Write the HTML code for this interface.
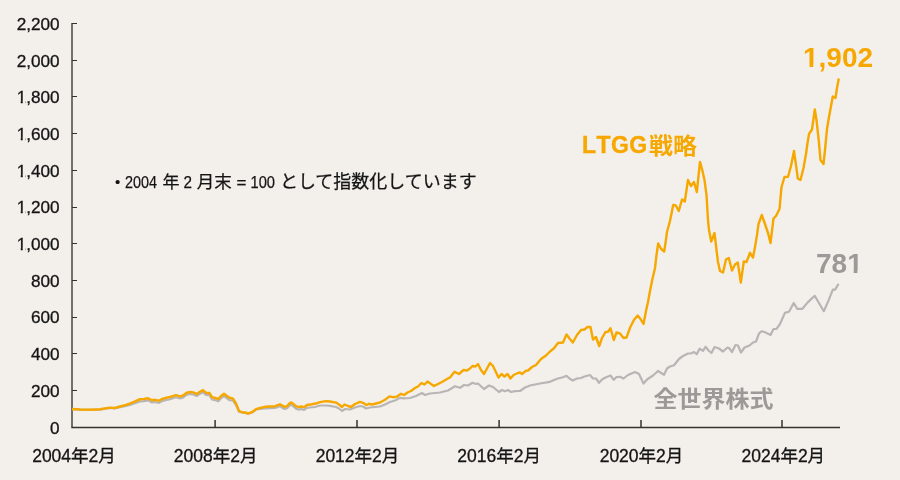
<!DOCTYPE html>
<html lang="ja"><head><meta charset="utf-8"><title>LTGG戦略と全世界株式の推移</title>
<style>
html,body{margin:0;padding:0;background:#f3f0eb;}
body{width:900px;height:480px;overflow:hidden;}
svg{display:block;will-change:transform;}
text{font-kerning:normal;}
</style></head>
<body>
<svg width="900" height="480" viewBox="0 0 900 480">
<defs><clipPath id="c1y5" clipPathUnits="userSpaceOnUse"><polygon points="14.32,228.55 63.60,228.55 63.60,258.25 26.90,258.25 26.90,247.69 24.12,247.69 24.12,258.25 22.24,258.25 22.24,247.69 18.81,247.69 18.81,258.25 14.32,258.25"/></clipPath><clipPath id="c1y6" clipPathUnits="userSpaceOnUse"><polygon points="14.32,191.55 63.60,191.55 63.60,221.25 26.90,221.25 26.90,210.69 24.12,210.69 24.12,221.25 22.24,221.25 22.24,210.69 18.81,210.69 18.81,221.25 14.32,221.25"/></clipPath><clipPath id="c1y7" clipPathUnits="userSpaceOnUse"><polygon points="14.32,155.55 63.60,155.55 63.60,185.25 26.90,185.25 26.90,174.69 24.12,174.69 24.12,185.25 22.24,185.25 22.24,174.69 18.81,174.69 18.81,185.25 14.32,185.25"/></clipPath><clipPath id="c1y8" clipPathUnits="userSpaceOnUse"><polygon points="14.32,118.55 63.60,118.55 63.60,148.25 26.90,148.25 26.90,137.69 24.12,137.69 24.12,148.25 22.24,148.25 22.24,137.69 18.81,137.69 18.81,148.25 14.32,148.25"/></clipPath><clipPath id="c1y9" clipPathUnits="userSpaceOnUse"><polygon points="14.32,81.55 63.60,81.55 63.60,111.25 26.90,111.25 26.90,100.69 24.12,100.69 24.12,111.25 22.24,111.25 22.24,100.69 18.81,100.69 18.81,111.25 14.32,111.25"/></clipPath><clipPath id="c1a" clipPathUnits="userSpaceOnUse"><polygon points="798.00,30.60 880.00,30.60 880.00,81.00 818.12,81.00 818.12,63.98 813.29,63.98 813.29,81.00 809.51,81.00 809.51,63.98 803.84,63.98 803.84,81.00 798.00,81.00"/></clipPath><clipPath id="c1b" clipPathUnits="userSpaceOnUse"><polygon points="810.00,236.60 870.00,236.60 870.00,287.00 862.26,287.00 862.26,269.98 857.43,269.98 857.43,287.00 853.65,287.00 853.65,269.98 847.98,269.98 847.98,287.00 810.00,287.00"/></clipPath></defs>
<rect x="0" y="0" width="900" height="480" fill="#f3f0eb"/>
<g stroke="#35322e" stroke-width="1.5" fill="none">
<line x1="72" y1="23.1" x2="72" y2="427" stroke="#46433f"/>
<line x1="71.25" y1="427.4" x2="840" y2="427.4"/>
</g>
<g stroke="#35322e" stroke-width="1" fill="none">
<line x1="72" y1="390.50" x2="77" y2="390.50"/>
<line x1="72" y1="353.50" x2="77" y2="353.50"/>
<line x1="72" y1="317.50" x2="77" y2="317.50"/>
<line x1="72" y1="280.50" x2="77" y2="280.50"/>
<line x1="72" y1="243.50" x2="77" y2="243.50"/>
<line x1="72" y1="207.50" x2="77" y2="207.50"/>
<line x1="72" y1="170.50" x2="77" y2="170.50"/>
<line x1="72" y1="133.50" x2="77" y2="133.50"/>
<line x1="72" y1="96.50" x2="77" y2="96.50"/>
<line x1="72" y1="60.50" x2="77" y2="60.50"/>
<line x1="72" y1="23.50" x2="77" y2="23.50"/>
</g>
<g stroke="#35322e" stroke-width="1.5" fill="none">
<line x1="215.1" y1="420" x2="215.1" y2="427.4"/>
<line x1="357" y1="420" x2="357" y2="427.4"/>
<line x1="499.1" y1="420" x2="499.1" y2="427.4"/>
<line x1="641" y1="420" x2="641" y2="427.4"/>
<line x1="782" y1="420" x2="782" y2="427.4"/>
</g>
<polyline points="72,409.2 80,409.719 90,409.942 100,409.565 110,407.888 114.5,408.299 120,407.146 126,405.862 130,404.867 134,403.5 140,401.4 144,401.187 148,400.373 152,402.46 155,401.95 159,402.837 162,401.127 166.7,399.811 170,399.1 176,397.28 180,398.367 182.7,397.758 186.7,394.744 190.7,393.931 194,394.72 196.7,396.011 200,393.7 203,392.15 206,394.9 209.5,395.158 212,399.4 215.3,400.255 218.3,401.305 221,398.35 224,396.2 229,399.983 233,400.7 236,405 239,411.6 242,412.5 245,412.8 248,413.8 252,412.5 256,409.5 260,408.986 265,408.354 270,408.189 275,408.024 280,406.259 284,408.868 287,408.349 290,405.03 292,405.084 296,408.592 299,409.673 301,409.05 304,409.9 307,407.85 310,407.5 315,407 320,405.5 326,405.5 330,405.8 336,407 339,408.5 342,411 345,409 350,409.5 355,407.5 360,406 363,406.5 366,408.5 370,407.5 380,406.5 385,404.5 390,402 395,400.5 400,397.8 404,398.3 410,398 416,396 422,393 425,395 430,393.5 440,392.5 448,390.5 455,386.2 460,387.8 464,385 468,385.5 472.5,382.8 476,384 478,383.5 484,389 489,385.5 493,387 499,392 502,390 505,391.2 508,390 511,392 515,391.2 520,391 525,387.5 530,385.5 540,383.5 550,381.8 554,380 558,378.5 563,377.2 566.5,375.8 569.5,378.5 572.8,380.5 577,378.5 581,378 584.5,376.5 590,375 593,378.5 596,378.5 599,382.8 602,379.5 605.5,377.5 610.5,375.5 613.8,379.8 616.5,377 620,376.8 623.5,378.5 628,375 635,372 639,374 643.5,383.5 647,379.5 653,375.5 658,371 664,374.8 667,368.5 670,366.5 674,365.2 679,359 683,356 688,353.5 691,353.5 694,352 696.8,354.2 699.5,348.8 703,350.8 705.5,346.8 709,351 711.5,353 714.5,347 719,348.5 723,351.5 727.5,347.5 729,348 732,352 735.5,345 738,345.5 741,352.5 744.5,347.5 749.5,345.5 753,342.5 756,341.5 759,333.5 761.5,331.2 764.5,332 770.5,335 773.5,329 776.5,328.8 780,324 784.9,312.9 789,311.8 793.7,303 797.2,308.8 802.4,308.8 807.7,302.4 814.7,295.8 823.8,311.2 828.7,300.1 832.8,289.6 835.1,289.6 838.6,283.8" fill="none" stroke="#b7b5b5" stroke-width="2.2" stroke-linejoin="round" stroke-linecap="butt"/>
<polyline points="72,409 80,409.5 90,409.7 100,409.3 110,407.6 114.5,408 120,406.5 126,404.8 130,403.5 134,401.8 140,399.2 144,399 148,398.2 152,400.3 155,399.8 159,400.7 162,399 166.7,397.7 170,397 176,395.2 180,396.3 182.7,395.7 186.7,392.7 190.7,391.9 194,392.7 196.7,394 200,391.7 203,390.1 206,392.8 209.5,393 212,397.2 215.3,398 218.3,399 221,396 224,393.8 229,397.5 233,398.7 236,403.5 239,411 242,412.2 245,412.5 248,413.5 252,412.2 256,409.2 260,408 265,406.8 270,406.5 275,406.2 280,404.3 284,406.8 287,406.2 290,402.8 292,402.8 296,406.2 299,407.2 301,406.5 304,407.2 307,405 312,404.2 317,403.2 320,402.1 326,401.1 330,401.5 336,402.6 339,404.5 342,407 344.5,404.5 348,406 351,407 355,404 360,401.8 363,402.8 366.5,405 369,403.8 372,404.5 376,403.5 380,402.5 385,399.8 389.5,396.4 393,397.2 397,396.6 401,393.8 404,395 407.5,392.5 411,391 415,388 418,386.5 421.5,383 424.5,384.5 427.5,381.5 431,384 434,386 438,384 442,382 447,379 450,377.5 454.5,371.8 459,374 463.5,370 467,370.5 470,368.5 472.5,366 475.5,366.5 478,364 481,370 484,374 490,363 493,366 498.5,377.5 501.5,374 504.5,376.5 507.5,374 510.5,378.5 513.5,375 518,373 520,372.5 522,374 526,370.8 528,370.5 532,367 536,365 541,359 546,355.5 550,351.5 554,348.3 558,343 563,342.5 566.5,334.5 569.5,338.5 572.8,342.5 577,335 581,330 584.5,329.5 587.5,327 590.5,327 593,339.5 596,337 599.2,346 602,338 605.5,332 608,331.8 610.5,328.2 613.8,340 616.5,332.5 620,333.5 623.5,338 626.5,337.5 630,327.8 634,319.8 637.7,315.6 640.5,319 643.5,324 646.2,310 648,302 650,291 652.2,280 655,268 656.5,255 658.2,243.5 661.2,249 664.2,251.5 665.5,243 667,232 670,221 673.2,205 675.8,205.5 678.8,211 682,199.5 684.8,201.5 688,180 691,186 694,182 696.8,192 700,162 702,169 704.5,180 706.5,195 708,220 709,230 711.2,241.5 714.5,233 716.5,250 718,262 720,271 723,272.5 726,259.5 728.8,258 732,270.5 735,264.5 737.8,262.5 740.8,282.5 743.8,261.5 746.5,262 750,252.8 753,257.5 755,247 757,235 758.5,224 761.8,215 765,224 768,233 770.5,243 773.5,218.5 776,216 779.5,209 781.5,187 784.5,177 788,176.8 791,166 794,151 796,165 797.8,178.5 800.5,180 803.5,168 806,154 807.5,143 809,134 812,129.5 814.8,109.5 816.5,120 819,143 820.5,160 823.5,164 825,150 827,129 829,117 831,106 832.8,96.5 835.5,98 837,88 838.8,78.5" fill="none" stroke="#f6a700" stroke-width="2.4" stroke-linejoin="round" stroke-linecap="butt"/>
<g font-family="'Liberation Sans', sans-serif" font-size="16.5" fill="#141414" stroke="#141414" stroke-width="0.3" transform="translate(59.6,0) scale(1.04,1) translate(-59.6,0)">
<text x="59.6" y="434" text-anchor="end">0</text>
<text x="59.6" y="397" text-anchor="end">200</text>
<text x="59.6" y="360" text-anchor="end">400</text>
<text x="59.6" y="323" text-anchor="end">600</text>
<text x="59.6" y="287" text-anchor="end">800</text>
<text x="59.6" y="250" text-anchor="end" clip-path="url(#c1y5)">1,000</text>
<text x="59.6" y="213" text-anchor="end" clip-path="url(#c1y6)">1,200</text>
<text x="59.6" y="177" text-anchor="end" clip-path="url(#c1y7)">1,400</text>
<text x="59.6" y="140" text-anchor="end" clip-path="url(#c1y8)">1,600</text>
<text x="59.6" y="103" text-anchor="end" clip-path="url(#c1y9)">1,800</text>
<text x="59.6" y="67" text-anchor="end">2,000</text>
<text x="59.6" y="30" text-anchor="end">2,200</text>
</g>
<g font-family="'Liberation Sans', 'Noto Sans CJK JP', sans-serif" font-size="17.5" fill="#141414" stroke="#141414" stroke-width="0.3" text-anchor="middle">
<text x="74.0" y="462">2004年2月</text>
<text x="215.6" y="462">2008年2月</text>
<text x="357.5" y="462">2012年2月</text>
<text x="499.1" y="462">2016年2月</text>
<text x="641.5" y="462">2020年2月</text>
<text x="783.3" y="462">2024年2月</text>
</g>
<text x="803" y="67" clip-path="url(#c1a)" font-family="'Liberation Sans', sans-serif" font-size="28" font-weight="bold" fill="#f6a700">1,902</text>
<text x="816" y="273" clip-path="url(#c1b)" font-family="'Liberation Sans', sans-serif" font-size="28" font-weight="bold" fill="#9c9a98">781</text>
<text x="582" y="152.6" stroke="#f6a700" stroke-width="0.35" font-family="'Liberation Sans', sans-serif" font-size="23" font-weight="bold" fill="#f6a700" style="font-kerning:none" letter-spacing="0.45">LTGG</text>
<text x="649" y="0" transform="translate(0,154.2) scale(1,0.93)" font-family="'Liberation Sans', 'Noto Sans CJK JP', sans-serif" font-size="24" font-weight="bold" fill="#f6a700">戦略</text>
<text x="653.5" y="0" transform="translate(0,407.3) scale(1,0.93)" font-family="'Liberation Sans', 'Noto Sans CJK JP', sans-serif" font-size="24" font-weight="bold" fill="#9c9a98">全世界株式</text>
<g font-family="'Liberation Sans', 'Noto Sans CJK JP', sans-serif" font-size="17" fill="#141414" stroke="#141414" stroke-width="0.25">
<text x="114.9" y="186.9" font-size="15" stroke-width="0.15">•</text>
<text x="125" y="188" textLength="32" lengthAdjust="spacingAndGlyphs">2004</text>
<text x="162.5" y="188">年</text>
<text x="183.5" y="188" textLength="8.5" lengthAdjust="spacingAndGlyphs">2</text>
<text x="196.7" y="188" font-size="17.5">月末</text>
<text x="236.5" y="188">=</text>
<text x="250.5" y="188" textLength="24.5" lengthAdjust="spacingAndGlyphs">100</text>
<text x="279.9" y="188.3" font-size="18">として指数化しています</text>
</g>
</svg>
</body></html>
